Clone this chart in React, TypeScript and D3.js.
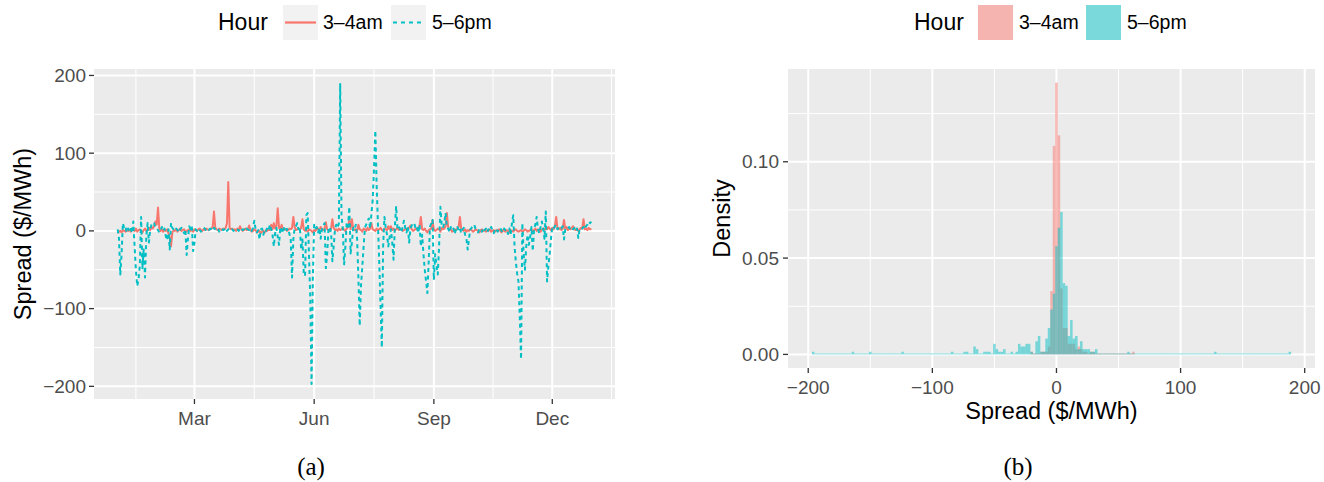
import React from "react";
import * as d3 from "d3";

// ---------- data ----------
const hourLabels = ["3–4am", "5–6pm"];
const seriesColors = ["#F8766D", "#00BFC4"];
const startDay = "2015-01-01";

// daily spread, 3-4am
const spread34am = [
  -3, -1, 0, -2, 1, 0, -1, 2, 0, 1,
  -1, 2, 1, 0, 3, -1, 1, 2, 0, -2,
  1, 3, 0, 2, 4, 1, 5, 3, 6, 12,
  8, 30, 3, 0, 2, -1, 1, 0, 2, -3,
  -8, -20, -2, 1, 0, 2, -1, 1, 3, 0,
  1, 2, 0, -1, 1, 2, 0, 1, -1, 2,
  1, 0, 2, 3, 1, 0, 2, 1, 3, 2,
  1, 2, 3, 5, 25, 4, 2, 1, 3, 2,
  1, 3, 2, 4, 10, 63, 4, 2, 3, 1,
  2, 0, 3, 1, 6, 2, 0, 1, 3, 1,
  2, 7, 1, -1, 0, 2, 1, -2, -1, 0,
  -3, -1, 0, -2, 1, 0, 2, 1, 8, 2,
  10, 3, 6, 29, 4, 2, 8, 1, 3, 2,
  0, 1, 3, 2, 4, 18, 5, 1, 2, 3,
  1, 4, 15, 2, 0, 1, -1, 2, 1, 0,
  -2, 1, 0, 2, 3, 1, 5, 2, 1, 3,
  11, 2, 1, 0, 3, 15, 4, 1, 2, 0,
  3, 1, 2, 4, 1, 0, 3, 5, 14, 2,
  15, 3, 1, 2, 0, 8, 2, 1, -1, 3,
  2, 0, 4, 1, 3, 10, 2, 1, 0, 3,
  1, 2, 4, 1, 0, 3, 2, 1, 6, 2,
  6, 1, 3, 0, 2, 4, 1, 3, 2, 0,
  1, 2, 3, 1, 4, 7, 2, 0, 1, 3,
  2, 4, 6, 18, 2, 1, 3, 0, -2, 1,
  2, 3, 14, 2, 0, 1, 3, 2, -1, 4,
  2, 3, 6, 23, 4, 1, 2, -1, 0, 2,
  1, 3, 5, 18, 3, 1, 0, 2, -1, 1,
  0, 2, 1, -1, 0, 2, 1, 0, -2, 1,
  2, 0, 1, -1, 1, 0, 2, -1, 0, 1,
  -1, 1, 0, 2, 0, -2, 1, 0, -1, 1,
  0, -2, 1, 0, -1, 1, 2, 0, -1, 0,
  1, -1, 0, 2, 1, -1, 0, 1, 2, 0,
  1, 3, 0, 2, 1, -1, 2, 3, 1, 4,
  2, 5, 3, 1, 4, 2, 6, 18, 3, 2,
  4, 1, 3, 14, 2, 5, 1, 3, 2, 4,
  6, 2, 1, 3, 0, 2, 4, 3, 15, 2,
  3, 1, 4, 2, 3,
];

// daily spread, 5-6pm
const spread56pm = [
  2, -10, -56, -30, 10, 3, 5, -2, 3, 0,
  4, -3, 12, -20, -50, -71, -63, -45, 18, -48,
  -24, -60, -7, 10, -15, 2, 8, 11, 10, 4,
  3, 1, -2, 1, 5, 0, 3, -7, -12, 2,
  -24, 10, 4, 2, 0, 3, 1, -2, 2, 4,
  1, -3, 2, -31, -10, 6, 2, 6, -26, -15,
  2, 0, 3, 1, -1, 2, 4, 3, 0, 2,
  1, 3, 2, 0, 4, 2, 1, 3, -1, 2,
  3, 1, 2, 4, 0, 2, 3, 1, 2, 0,
  1, 3, 2, 0, 2, 4, 1, 2, 0, 3,
  2, 1, 3, 0, 4, 13, 2, -2, 1, -11,
  2, 3, -5, 2, 0, 4, 1, 8, 2, -5,
  -20, -3, 4, -8, -18, 5, 2, -3, 4, 6,
  1, 3, -4, -11, -60, -11, 4, 6, 10, 2,
  5, -24, -11, -54, -58, 20, 23, -30, -85, -197,
  -60, 8, 3, 5, -2, 4, -10, 2, 6, 10,
  -48, -30, 3, 5, -2, -39, -20, 2, 8, 4,
  10, 189, 20, 3, -43, -20, 10, 5, 31, -29,
  -15, 4, 2, 8, -10, -60, -122, -70, -46, -20,
  4, 8, 12, 16, 3, 22, 40, 80, 129, 60,
  10, -40, -95, -150, -20, 18, 4, -5, -20, -8,
  2, -15, -37, 5, 32, 3, 6, 2, -2, 5,
  13, 4, -2, 6, -15, 3, 7, 10, 10, 2,
  4, -3, 8, -20, -5, -30, -50, -65, -80, -40,
  5, 10, 14, -63, -30, -45, -56, -20, 31, 8,
  4, 10, 23, 5, 3, -2, 5, 1, 3, -4,
  2, 6, 0, 3, -3, 2, 4, -5, -10, -24,
  -10, 2, 4, 6, 8, 3, 1, -2, 3, 2,
  -1, 4, 1, 3, -2, 2, 0, 5, 1, -3,
  2, 3, -1, 2, 4, 0, -2, 3, 1, 2,
  -4, 3, -5, 10, 20, -20, -40, -55, -65, -110,
  -165, 10, -30, -50, -20, -5, -18, -8, 5, -26,
  3, 8, 18, 2, -3, 5, 12, 3, -10, 25,
  -65, -45, -30, -10, 5, 3, 6, 8, 2, 4,
  5, 3, 6, -11, 2, 4, 3, 5, 1, 3,
  2, 4, 0, 3, -9, 2, 4, 3, 5, 2,
  6, 8, 12, 10, 12,
];

// axis ticks
const monthTicks = ["2015-03-01", "2015-06-01", "2015-09-01", "2015-12-01"];
const monthTickLabels = ["Mar", "Jun", "Sep", "Dec"];
const monthOuterBreaks = ["2014-12-01", "2016-03-01"];
const spreadTicks = [-200, -100, 0, 100, 200];
const spreadTickLabels = ["−200", "−100", "0", "100", "200"];
const densityTicks = [0, 0.05, 0.1];
const densityTickLabels = ["0.00", "0.05", "0.10"];

// histogram (bin width 2, bins centred on even values)
const histBinWidth = 2;
const histCenters34am = [-20, -12, -10, -8, -6, -4, -2, 0, 2, 4, 6, 8, 10, 12, 14, 16, 18, 20, 22, 24, 28, 30, 62];
const histCounts34am = [1, 1, 1, 1, 3, 24, 79, 103, 83, 25, 10, 10, 4, 4, 4, 2, 3, 2, 1, 1, 1, 1, 1];
const histCenters56pm = [
  -196, -164, -150, -124, -84, -74, -72, -66, -64, -58, -56, -54, -50, -48, -46, -44, -42, -36, -32,
  -30, -28, -26, -24, -22, -20, -16, -14, -12, -10, -8, -6, -4, -2, 0, 2, 4, 6, 8, 10, 12, 14, 16,
  18, 20, 22, 24, 26, 28, 30, 32, 58, 128, 188,
];
const histCounts56pm = [
  1, 1, 1, 1, 1, 1, 1, 3, 2, 1, 1, 1, 4, 2, 1, 1, 2, 1, 1,
  4, 3, 3, 4, 4, 1, 5, 7, 1, 1, 6, 10, 17, 23, 41, 48, 54, 27, 26, 7, 13, 6, 7,
  2, 5, 2, 2, 2, 1, 1, 2, 1, 1, 1,
];

// ---------- layout ----------
const W = 1324;
const H = 482;
const FONT = "'Liberation Sans', Arial, Helvetica, sans-serif";
const PANEL_BG = "#EBEBEB";
const TICK_COL = "#4D4D4D";
const LP = { x0: 94, x1: 615, y0: 69, y1: 399 };
const RP = { x0: 788, x1: 1315, y0: 69, y1: 368 };

function expand(lo: number, hi: number, f = 0.05): [number, number] {
  const r = hi - lo;
  return [lo - r * f, hi + r * f];
}

export default function App() {
  const parse = d3.timeParse("%Y-%m-%d");
  const start = parse(startDay)!;
  const dates = spread34am.map((_, i) => d3.timeDay.offset(start, i));
  const t0 = dates[0].getTime();
  const t1 = dates[dates.length - 1].getTime();
  const [tx0, tx1] = expand(t0, t1);
  const xTime = d3.scaleTime().domain([new Date(tx0), new Date(tx1)]).range([LP.x0, LP.x1]);
  const allVals = spread34am.concat(spread56pm);
  const yLeft = d3
    .scaleLinear()
    .domain(expand(d3.min(allVals)!, d3.max(allVals)!))
    .range([LP.y1, LP.y0]);

  const majorDates = monthTicks.map((s) => parse(s)!);
  const outer = monthOuterBreaks.map((s) => parse(s)!);
  const allBreaks = [outer[0], ...majorDates, outer[1]];
  const minorDates: Date[] = [];
  for (let i = 0; i < allBreaks.length - 1; i++) {
    minorDates.push(new Date((allBreaks[i].getTime() + allBreaks[i + 1].getTime()) / 2));
  }
  const minorSpread = spreadTicks.slice(0, -1).map((v, i) => (v + spreadTicks[i + 1]) / 2);

  const lineGen = d3
    .line<number>()
    .x((_, i) => xTime(dates[i]))
    .y((d) => yLeft(d));

  // histogram
  const nObs = spread34am.length;
  const buildBins = (centers: number[], counts: number[]) => {
    const lo = d3.min(centers)!;
    const hi = d3.max(centers)!;
    const m = new Map<number, number>();
    centers.forEach((c, i) => m.set(c, counts[i]));
    const out: { c: number; d: number }[] = [];
    for (let c = lo; c <= hi; c += histBinWidth) {
      out.push({ c, d: (m.get(c) || 0) / (nObs * histBinWidth) });
    }
    return out;
  };
  const bins34 = buildBins(histCenters34am, histCounts34am);
  const bins56 = buildBins(histCenters56pm, histCounts56pm);
  const allCenters = histCenters34am.concat(histCenters56pm);
  const hx = expand(d3.min(allCenters)! - histBinWidth / 2, d3.max(allCenters)! + histBinWidth / 2);
  const xHist = d3.scaleLinear().domain(hx).range([RP.x0, RP.x1]);
  const maxD = d3.max(bins34.concat(bins56), (b) => b.d)!;
  const yHist = d3.scaleLinear().domain([-0.05 * maxD, 1.05 * maxD]).range([RP.y1, RP.y0]);
  const minorDensity = [0.025, 0.075, 0.125];

  const histBars = (bins: { c: number; d: number }[], color: string, key: string) =>
    bins.map((b, i) => {
      const xa = xHist(b.c - histBinWidth / 2);
      const xb = xHist(b.c + histBinWidth / 2);
      const ya = yHist(b.d);
      const y0 = yHist(0);
      const h = Math.max(y0 - ya, 0.9);
      return (
        <rect key={key + i} x={xa} y={y0 - h} width={xb - xa} height={h} fill={color} fillOpacity={0.5} />
      );
    });

  return (
    <svg
      width={W}
      height={H}
      viewBox={`0 0 ${W} ${H}`}
      style={{ position: "absolute", left: 0, top: 0, background: "#fff" }}
      fontFamily={FONT}
    >
      {/* ---------- LEFT PANEL ---------- */}
      <g>
        {/* legend */}
        <text x={218} y={22} dominantBaseline="central" fontSize={23} fill="#000">
          Hour
        </text>
        <rect x={283} y={5} width={35} height={35} fill="#F2F2F2" />
        <line x1={285} x2={316} y1={22.5} y2={22.5} stroke={seriesColors[0]} strokeWidth={2.2} />
        <text x={323} y={22} dominantBaseline="central" fontSize={19.5} fill="#000">
          {hourLabels[0]}
        </text>
        <rect x={391} y={5} width={35} height={35} fill="#F2F2F2" />
        <line x1={393} x2={424} y1={22.5} y2={22.5} stroke={seriesColors[1]} strokeWidth={2.2} strokeDasharray="4,4" />
        <text x={432} y={22} dominantBaseline="central" fontSize={19.5} fill="#000">
          {hourLabels[1]}
        </text>

        <rect x={LP.x0} y={LP.y0} width={LP.x1 - LP.x0} height={LP.y1 - LP.y0} fill={PANEL_BG} />
        {minorSpread.map((v) => (
          <line key={"lmy" + v} x1={LP.x0} x2={LP.x1} y1={yLeft(v)} y2={yLeft(v)} stroke="#fff" strokeWidth={1} />
        ))}
        {minorDates.map((d, i) => (
          <line key={"lmx" + i} x1={xTime(d)} x2={xTime(d)} y1={LP.y0} y2={LP.y1} stroke="#fff" strokeWidth={1} />
        ))}
        {spreadTicks.map((v) => (
          <line key={"lMy" + v} x1={LP.x0} x2={LP.x1} y1={yLeft(v)} y2={yLeft(v)} stroke="#fff" strokeWidth={2} />
        ))}
        {majorDates.map((d, i) => (
          <line key={"lMx" + i} x1={xTime(d)} x2={xTime(d)} y1={LP.y0} y2={LP.y1} stroke="#fff" strokeWidth={2} />
        ))}
        <path d={lineGen(spread34am)!} fill="none" stroke={seriesColors[0]} strokeWidth={2} strokeLinejoin="round" />
        <path
          d={lineGen(spread56pm)!}
          fill="none"
          stroke={seriesColors[1]}
          strokeWidth={2}
          strokeDasharray="4,3.5"
          strokeLinejoin="round"
        />
        {/* axes */}
        {spreadTicks.map((v, i) => (
          <g key={"lyt" + v}>
            <line x1={LP.x0 - 5} x2={LP.x0} y1={yLeft(v)} y2={yLeft(v)} stroke="#333" strokeWidth={1.3} />
            <text x={LP.x0 - 8} y={yLeft(v)} textAnchor="end" dominantBaseline="central" fontSize={19} fill={TICK_COL}>
              {spreadTickLabels[i]}
            </text>
          </g>
        ))}
        {majorDates.map((d, i) => (
          <g key={"lxt" + i}>
            <line x1={xTime(d)} x2={xTime(d)} y1={LP.y1} y2={LP.y1 + 5} stroke="#333" strokeWidth={1.3} />
            <text x={xTime(d)} y={LP.y1 + 19} textAnchor="middle" dominantBaseline="central" fontSize={19} fill={TICK_COL}>
              {monthTickLabels[i]}
            </text>
          </g>
        ))}
        <text
          transform={`translate(22.5, ${(LP.y0 + LP.y1) / 2}) rotate(-90)`}
          textAnchor="middle"
          dominantBaseline="central"
          fontSize={23.5}
          fill="#000"
        >
          Spread ($/MWh)
        </text>
        <text x={311} y={466} textAnchor="middle" dominantBaseline="central" fontSize={25} fontFamily="'Liberation Serif', 'DejaVu Serif', serif" fill="#000">
          (a)
        </text>
      </g>

      {/* ---------- RIGHT PANEL ---------- */}
      <g>
        <text x={914} y={22} dominantBaseline="central" fontSize={23} fill="#000">
          Hour
        </text>
        <rect x={978} y={5} width={35} height={35} fill="#F2F2F2" />
        <rect x={978} y={5} width={35} height={35} fill={seriesColors[0]} fillOpacity={0.5} />
        <text x={1019} y={22} dominantBaseline="central" fontSize={19.5} fill="#000">
          {hourLabels[0]}
        </text>
        <rect x={1086} y={5} width={35} height={35} fill="#F2F2F2" />
        <rect x={1086} y={5} width={35} height={35} fill={seriesColors[1]} fillOpacity={0.5} />
        <text x={1127} y={22} dominantBaseline="central" fontSize={19.5} fill="#000">
          {hourLabels[1]}
        </text>

        <rect x={RP.x0} y={RP.y0} width={RP.x1 - RP.x0} height={RP.y1 - RP.y0} fill={PANEL_BG} />
        {minorDensity.map((v) => (
          <line key={"rmy" + v} x1={RP.x0} x2={RP.x1} y1={yHist(v)} y2={yHist(v)} stroke="#fff" strokeWidth={1} />
        ))}
        {minorSpread.map((v) => (
          <line key={"rmx" + v} x1={xHist(v)} x2={xHist(v)} y1={RP.y0} y2={RP.y1} stroke="#fff" strokeWidth={1} />
        ))}
        {densityTicks.map((v) => (
          <line key={"rMy" + v} x1={RP.x0} x2={RP.x1} y1={yHist(v)} y2={yHist(v)} stroke="#fff" strokeWidth={2} />
        ))}
        {spreadTicks.map((v) => (
          <line key={"rMx" + v} x1={xHist(v)} x2={xHist(v)} y1={RP.y0} y2={RP.y1} stroke="#fff" strokeWidth={2} />
        ))}
        {histBars(bins34, seriesColors[0], "p")}
        {histBars(bins56, seriesColors[1], "c")}
        {densityTicks.map((v, i) => (
          <g key={"ryt" + v}>
            <line x1={RP.x0 - 5} x2={RP.x0} y1={yHist(v)} y2={yHist(v)} stroke="#333" strokeWidth={1.3} />
            <text x={RP.x0 - 9} y={yHist(v)} textAnchor="end" dominantBaseline="central" fontSize={19} fill={TICK_COL}>
              {densityTickLabels[i]}
            </text>
          </g>
        ))}
        {spreadTicks.map((v, i) => (
          <g key={"rxt" + v}>
            <line x1={xHist(v)} x2={xHist(v)} y1={RP.y1} y2={RP.y1 + 5} stroke="#333" strokeWidth={1.3} />
            <text x={xHist(v)} y={RP.y1 + 19} textAnchor="middle" dominantBaseline="central" fontSize={19} fill={TICK_COL}>
              {spreadTickLabels[i]}
            </text>
          </g>
        ))}
        <text
          transform={`translate(722, ${(RP.y0 + RP.y1) / 2}) rotate(-90)`}
          textAnchor="middle"
          dominantBaseline="central"
          fontSize={23.5}
          fill="#000"
        >
          Density
        </text>
        <text x={(RP.x0 + RP.x1) / 2} y={411} textAnchor="middle" dominantBaseline="central" fontSize={23.5} fill="#000">
          Spread ($/MWh)
        </text>
        <text x={1018} y={466} textAnchor="middle" dominantBaseline="central" fontSize={25} fontFamily="'Liberation Serif', 'DejaVu Serif', serif" fill="#000">
          (b)
        </text>
      </g>
    </svg>
  );
}
